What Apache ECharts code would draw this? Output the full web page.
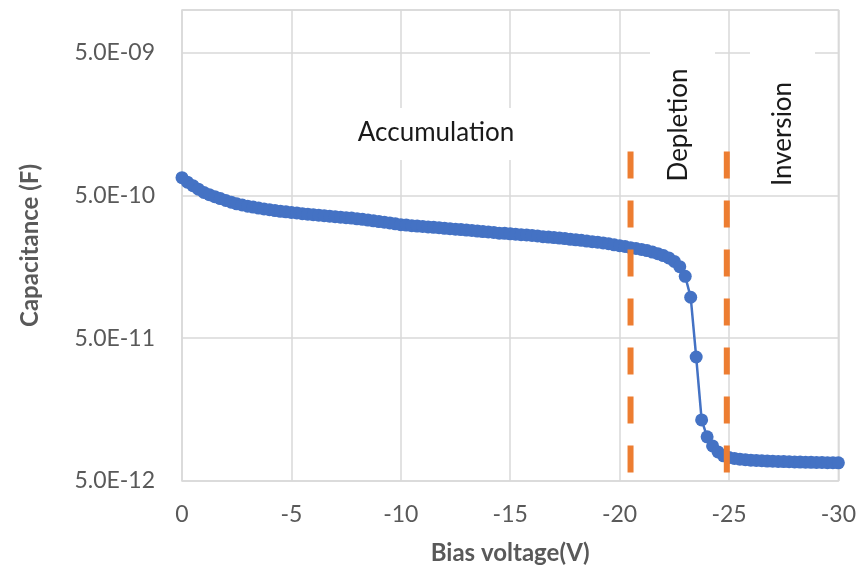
<!DOCTYPE html>
<html>
<head>
<meta charset="utf-8">
<title>C-V curve</title>
<script src="https://cdn.jsdelivr.net/npm/echarts@6/dist/echarts.min.js"></script>
<style>
  html, body { margin: 0; padding: 0; background: #fff; }
  #chart { width: 859px; height: 572px; }
</style>
</head>
<body>
<div id="chart"></div>
<script>
// Bias voltage sweep (V)
const biasVoltage = [
  0, -0.25, -0.5, -0.75, -1, -1.25, -1.5, -1.75, -2, -2.25, -2.5, -2.75,
  -3, -3.25, -3.5, -3.75, -4, -4.25, -4.5, -4.75, -5, -5.25, -5.5, -5.75,
  -6, -6.25, -6.5, -6.75, -7, -7.25, -7.5, -7.75, -8, -8.25, -8.5, -8.75,
  -9, -9.25, -9.5, -9.75, -10, -10.25, -10.5, -10.75, -11, -11.25, -11.5, -11.75,
  -12, -12.25, -12.5, -12.75, -13, -13.25, -13.5, -13.75, -14, -14.25, -14.5, -14.75,
  -15, -15.25, -15.5, -15.75, -16, -16.25, -16.5, -16.75, -17, -17.25, -17.5, -17.75,
  -18, -18.25, -18.5, -18.75, -19, -19.25, -19.5, -19.75, -20, -20.25, -20.5, -20.75,
  -21, -21.25, -21.5, -21.75, -22, -22.25, -22.5, -22.75, -23, -23.25, -23.5, -23.75,
  -24, -24.25, -24.5, -24.75, -25, -25.25, -25.5, -25.75, -26, -26.25, -26.5, -26.75,
  -27, -27.25, -27.5, -27.75, -28, -28.25, -28.5, -28.75, -29, -29.25, -29.5, -29.75,
  -30
];

// Measured capacitance (F)
const capacitance = [
  6.68e-10, 6.21e-10, 5.87e-10, 5.55e-10, 5.27e-10, 5.08e-10, 4.92e-10, 4.77e-10,
  4.63e-10, 4.50e-10, 4.38e-10, 4.30e-10, 4.22e-10, 4.16e-10, 4.09e-10, 4.03e-10,
  3.98e-10, 3.93e-10, 3.88e-10, 3.85e-10, 3.81e-10, 3.78e-10, 3.74e-10, 3.71e-10,
  3.68e-10, 3.65e-10, 3.62e-10, 3.59e-10, 3.56e-10, 3.53e-10, 3.50e-10, 3.48e-10,
  3.44e-10, 3.41e-10, 3.37e-10, 3.33e-10, 3.29e-10, 3.26e-10, 3.22e-10, 3.17e-10,
  3.13e-10, 3.11e-10, 3.08e-10, 3.06e-10, 3.04e-10, 3.02e-10, 3.00e-10, 2.98e-10,
  2.95e-10, 2.93e-10, 2.91e-10, 2.89e-10, 2.87e-10, 2.85e-10, 2.82e-10, 2.80e-10,
  2.78e-10, 2.76e-10, 2.73e-10, 2.72e-10, 2.70e-10, 2.68e-10, 2.66e-10, 2.65e-10,
  2.63e-10, 2.61e-10, 2.58e-10, 2.56e-10, 2.54e-10, 2.52e-10, 2.50e-10, 2.47e-10,
  2.45e-10, 2.43e-10, 2.40e-10, 2.38e-10, 2.36e-10, 2.33e-10, 2.30e-10, 2.26e-10,
  2.23e-10, 2.20e-10, 2.16e-10, 2.13e-10, 2.10e-10, 2.06e-10, 2.01e-10, 1.96e-10,
  1.90e-10, 1.83e-10, 1.73e-10, 1.59e-10, 1.36e-10, 9.7e-11, 3.7e-11, 1.34e-11,
  1.02e-11, 8.8e-12, 8.0e-12, 7.5e-12, 7.3e-12, 7.2e-12, 7.1e-12, 7.05e-12,
  7.0e-12, 6.97e-12, 6.93e-12, 6.9e-12, 6.88e-12, 6.86e-12, 6.84e-12, 6.82e-12,
  6.8e-12, 6.79e-12, 6.77e-12, 6.76e-12, 6.75e-12, 6.74e-12, 6.72e-12, 6.71e-12,
  6.7e-12
];

// Region boundaries (V) and the vertical extent of the marker lines (F)
const boundaryVoltages = [-20.5, -24.9];
const boundaryTop = 1.02e-9;
const boundaryBottom = 5e-12;

// Axis ranges
const xTicks = { min: -30, max: 0, step: 5 };
const yRange = { min: 5e-12, max: 1e-8 };

// Region names
const regionNames = ['Accumulation', 'Depletion', 'Inversion'];

const FONT = 'Lato, "Open Sans", sans-serif';
const AXIS_GREY = '#595959';
const GRID_GREY = '#D9D9D9';

// 5.0E-12 style tick labels; only the 5.0 x 10^n ticks are labelled
function sciLabel(v) {
  const parts = v.toExponential(1).split('e');
  const n = parseInt(parts[1], 10);
  if (parts[0] !== '5.0') return '';
  return parts[0] + 'E' + (n < 0 ? '-' : '+') + String(Math.abs(n)).padStart(2, '0');
}

const curve = biasVoltage.map((v, i) => [v, capacitance[i]]);

const boundarySeries = boundaryVoltages.map((v) => ({
  type: 'line',
  data: [[v, boundaryTop], [v, boundaryBottom]],
  showSymbol: false,
  symbol: 'none',
  silent: true,
  z: 5,
  lineStyle: { color: '#ED7D31', width: 6, type: [27, 22], cap: 'butt' }
}));

const chart = echarts.init(document.getElementById('chart'), null, { renderer: 'canvas' });

chart.setOption({
  animation: false,
  backgroundColor: '#ffffff',
  textStyle: { fontFamily: FONT },
  grid: {
    left: 182, right: 19, top: 10, bottom: 91,
    show: true, borderColor: GRID_GREY, borderWidth: 1.5, backgroundColor: 'transparent'
  },
  xAxis: {
    type: 'value',
    min: xTicks.min, max: xTicks.max, interval: xTicks.step,
    inverse: true,
    name: 'Bias voltage(V)',
    nameLocation: 'middle',
    nameGap: 60,
    nameTextStyle: { color: AXIS_GREY, fontSize: 24, fontWeight: 'bold', fontFamily: FONT },
    axisLine: { show: false },
    axisTick: { show: false },
    axisLabel: { color: AXIS_GREY, fontSize: 23, margin: 22, fontFamily: FONT },
    splitLine: { show: true, lineStyle: { color: GRID_GREY, width: 1.5 } }
  },
  yAxis: {
    type: 'log',
    logBase: 10,
    min: yRange.min, max: yRange.max, interval: 1,
    name: 'Capacitance (F)',
    nameLocation: 'middle',
    nameGap: 140,
    nameRotate: 90,
    nameTextStyle: { color: AXIS_GREY, fontSize: 24, fontWeight: 'bold', fontFamily: FONT },
    axisLine: { show: false },
    axisTick: { show: false },
    axisLabel: {
      color: AXIS_GREY, fontSize: 23, margin: 27, fontFamily: FONT,
      showMaxLabel: false,
      formatter: sciLabel
    },
    splitLine: { show: true, lineStyle: { color: GRID_GREY, width: 1.5 } }
  },
  series: [
    {
      type: 'line',
      name: 'C',
      data: curve,
      showAllSymbol: true,
      symbol: 'circle',
      symbolSize: 13,
      z: 3,
      itemStyle: { color: '#4472C4' },
      lineStyle: { color: '#4472C4', width: 2.5 }
    }
  ].concat(boundarySeries),
  graphic: [
    { type: 'rect', z: 1, shape: { x: 340, y: 108, width: 190, height: 52 }, style: { fill: '#ffffff' } },
    { type: 'rect', z: 1, shape: { x: 650, y: 40, width: 65, height: 150 }, style: { fill: '#ffffff' } },
    { type: 'rect', z: 1, shape: { x: 750, y: 40, width: 65, height: 150 }, style: { fill: '#ffffff' } },
    {
      type: 'text', z: 10, x: 436, y: 133,
      style: { text: regionNames[0], fill: '#1a1a1a', font: '26px ' + FONT, align: 'center', verticalAlign: 'middle' }
    },
    {
      type: 'text', z: 10, x: 679, y: 125, rotation: Math.PI / 2,
      style: { text: regionNames[1], fill: '#1a1a1a', font: '26px ' + FONT, align: 'center', verticalAlign: 'middle' }
    },
    {
      type: 'text', z: 10, x: 783, y: 134, rotation: Math.PI / 2,
      style: { text: regionNames[2], fill: '#1a1a1a', font: '26px ' + FONT, align: 'center', verticalAlign: 'middle' }
    }
  ]
});
</script>
</body>
</html>
